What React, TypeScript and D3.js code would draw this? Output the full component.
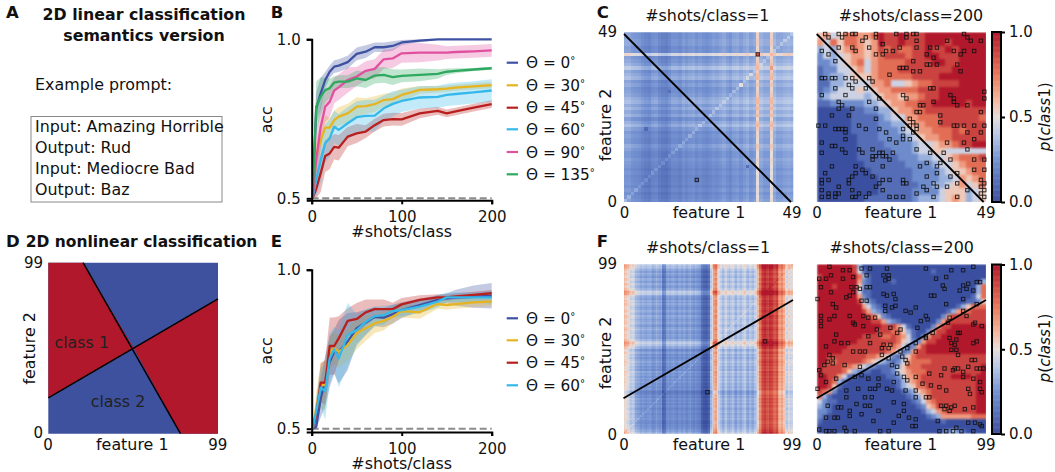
import React, { useEffect, useRef } from "react";
import * as d3 from "d3";

const width = 1055;
const height = 472;
const FONT = "DejaVu Sans";

const shots = [1, 5, 10, 15, 20, 25, 30, 40, 50, 60, 70, 80, 90, 100, 120, 140, 150, 160, 180, 200];

const thetaB = ["0", "30", "45", "60", "90", "135"];
const thetaE = ["0", "30", "45", "60"];
const lineColors = ["#3f51a3", "#e6b422", "#b8201f", "#35b8ea", "#e0509f", "#2fa860"];

// panel B mean accuracy, one row per theta
const accB = [
  [0.5, 0.783, 0.83, 0.872, 0.898, 0.914, 0.917, 0.928, 0.954, 0.961, 0.975, 0.975, 0.979, 0.99, 0.996, 1, 1, 1, 1, 1],
  [0.5, 0.631, 0.683, 0.722, 0.722, 0.746, 0.757, 0.767, 0.788, 0.79, 0.796, 0.809, 0.812, 0.825, 0.841, 0.843, 0.845, 0.848, 0.852, 0.856],
  [0.5, 0.53, 0.579, 0.633, 0.641, 0.662, 0.659, 0.694, 0.704, 0.71, 0.73, 0.746, 0.749, 0.748, 0.767, 0.775, 0.767, 0.773, 0.785, 0.796],
  [0.5, 0.558, 0.62, 0.673, 0.689, 0.725, 0.715, 0.736, 0.755, 0.759, 0.76, 0.783, 0.797, 0.806, 0.817, 0.819, 0.825, 0.828, 0.833, 0.839],
  [0.5, 0.62, 0.725, 0.788, 0.804, 0.839, 0.849, 0.872, 0.883, 0.901, 0.907, 0.937, 0.94, 0.956, 0.958, 0.958, 0.958, 0.96, 0.962, 0.965],
  [0.5, 0.788, 0.82, 0.84, 0.846, 0.864, 0.867, 0.867, 0.877, 0.872, 0.886, 0.888, 0.881, 0.885, 0.888, 0.891, 0.898, 0.901, 0.905, 0.909],
];
const errB = [
  [0, 0.05, 0.05, 0.025, 0.02, 0.02, 0.02, 0.02, 0.02, 0.02, 0.015, 0.015, 0.015, 0.008, 0.005, 0.002, 0, 0, 0, 0],
  [0, 0.05, 0.05, 0.04, 0.03, 0.03, 0.03, 0.03, 0.03, 0.025, 0.025, 0.02, 0.02, 0.02, 0.012, 0.01, 0.01, 0.01, 0.01, 0.01],
  [0, 0.04, 0.06, 0.05, 0.05, 0.04, 0.04, 0.03, 0.03, 0.02, 0.02, 0.02, 0.02, 0.02, 0.015, 0.012, 0.012, 0.012, 0.012, 0.012],
  [0, 0.05, 0.07, 0.06, 0.06, 0.05, 0.05, 0.05, 0.05, 0.05, 0.05, 0.04, 0.04, 0.035, 0.035, 0.035, 0.035, 0.035, 0.035, 0.035],
  [0, 0.08, 0.07, 0.05, 0.05, 0.04, 0.04, 0.04, 0.03, 0.03, 0.03, 0.03, 0.03, 0.03, 0.03, 0.025, 0.02, 0.02, 0.02, 0.02],
  [0, 0.08, 0.06, 0.04, 0.03, 0.02, 0.02, 0.02, 0.025, 0.025, 0.025, 0.025, 0.025, 0.02, 0.02, 0.015, 0.01, 0.008, 0.005, 0.005],
];

// panel E mean accuracy
const accE = [
  [0.5, 0.506, 0.595, 0.65, 0.71, 0.742, 0.742, 0.774, 0.816, 0.834, 0.852, 0.849, 0.86, 0.873, 0.889, 0.905, 0.91, 0.912, 0.915, 0.918],
  [0.5, 0.564, 0.637, 0.637, 0.742, 0.753, 0.742, 0.763, 0.8, 0.816, 0.831, 0.839, 0.852, 0.87, 0.866, 0.892, 0.889, 0.892, 0.897, 0.9],
  [0.5, 0.543, 0.645, 0.645, 0.76, 0.76, 0.784, 0.839, 0.845, 0.866, 0.876, 0.876, 0.876, 0.891, 0.905, 0.913, 0.913, 0.916, 0.921, 0.926],
  [0.5, 0.553, 0.629, 0.618, 0.721, 0.75, 0.721, 0.795, 0.81, 0.836, 0.854, 0.857, 0.87, 0.873, 0.884, 0.9, 0.913, 0.913, 0.913, 0.913],
];
const errE = [
  [0, 0.02, 0.06, 0.08, 0.08, 0.07, 0.1, 0.09, 0.05, 0.04, 0.03, 0.03, 0.03, 0.025, 0.02, 0.015, 0.015, 0.025, 0.035, 0.04],
  [0, 0.05, 0.07, 0.08, 0.05, 0.05, 0.05, 0.05, 0.05, 0.04, 0.03, 0.03, 0.02, 0.02, 0.02, 0.015, 0.015, 0.015, 0.015, 0.015],
  [0, 0.04, 0.06, 0.07, 0.09, 0.09, 0.07, 0.04, 0.05, 0.04, 0.03, 0.03, 0.02, 0.02, 0.015, 0.01, 0.01, 0.01, 0.01, 0.01],
  [0, 0.04, 0.06, 0.09, 0.08, 0.07, 0.09, 0.1, 0.05, 0.04, 0.03, 0.03, 0.02, 0.02, 0.02, 0.02, 0.015, 0.015, 0.015, 0.02],
];

// panel C left, read as column and row bands (top row first)
const colBandC = [
  0.3, 0.3, 0.27, 0.26, 0.25, 0.22, 0.2, 0.19, 0.23, 0.24, 0.2, 0.18, 0.17, 0.2, 0.24, 0.24, 0.22, 0.26, 0.24, 0.26, 0.27, 0.24, 0.26, 0.24, 0.23,
  0.25, 0.27, 0.26, 0.28, 0.3, 0.27, 0.25, 0.29, 0.3, 0.27, 0.3, 0.32, 0.28, 0.3, 0.53, 0.33, 0.3, 0.3, 0.53, 0.34, 0.3, 0.3, 0.32, 0.33, 0.32,
];
const rowBandC = [
  0, 0, 0.02, 0.02, -0.01, 0, 0.22, 0, 0.02, 0.05, 0.12, 0.02, 0.05, 0.08, 0, 0.03, -0.01, 0, 0.02, 0.06, 0.08, 0.03, 0.07, 0.02, 0.06,
  -0.01, 0.04, 0.08, 0.02, -0.02, 0, -0.02, -0.02, 0.03, 0, -0.03, -0.03, 0, -0.02, -0.03, -0.05, -0.03, -0.05, -0.04, -0.03, -0.05, -0.02, -0.05, -0.03, -0.01,
];
const capC = 0.6;
const diagLiftC = 0.07;
const spotsC = [[6, 21, 0.1], [36, 10, 0.12], [21, 6, 0.1], [39, 43, 0.85], [43, 39, 0.66], [34, 34, 0.5], [13, 32, 0.12], [37, 37, 0.48], [29, 29, 0.42]];

// panel C right, 25 x 25 digits (0 = p 0, 9 = p 1), top row first
const gridC = [
  "5645776679889888999999999",
  "6475776569889888999899999",
  "3435676568787788988989999",
  "2434566567888788998889999",
  "2234567467777888899889999",
  "1224456467778888888899999",
  "1233455567777788889999999",
  "1133444466744567788889999",
  "1234445456677778889999999",
  "2344444345665667889999999",
  "1122222334566778899999899",
  "0000011223356677888888888",
  "0000011112344667778888887",
  "0000011112233566778888888",
  "0000011112223456677787888",
  "0000001112222345667788888",
  "0000001111222234456678899",
  "0000001111122234455444444",
  "0000001111112223344567778",
  "0000000111111222234456777",
  "0000000011111122223455677",
  "0000000001111122223346567",
  "0000000001111112233456457",
  "0000000001111122224555345",
  "0000000111111123334565345",
];

// panel F left, hundredths
const colBandF = [
  58, 55, 52, 48, 44, 46, 42, 36, 34, 33, 30, 32, 30, 29, 31, 32, 30, 27, 29, 33, 30, 28, 31, 14, 16,
  28, 30, 27, 29, 31, 28, 26, 29, 30, 27, 30, 28, 26, 29, 31, 27, 25, 28, 26, 24, 22, 12, 8, 7, 8,
  12, 40, 48, 66, 70, 56, 48, 42, 36, 40, 44, 38, 35, 39, 42, 37, 34, 40, 38, 36, 41, 44, 37, 35, 40,
  38, 36, 42, 46, 60, 76, 84, 92, 95, 90, 88, 94, 92, 86, 84, 88, 72, 66, 70, 62, 50, 46, 52, 48, 50,
];
const rowBandF = [
  10, 8, 6, 2, -2, 3, 0, -3, 2, 1, -2, 3, 0, -1, 3, 7, 13, 11, 3, 0, -2, 2, -1, 3, 0,
  -3, -1, 2, 0, -2, 3, 1, -2, 0, 2, -1, -3, 1, 4, 0, -2, 2, 0, -1, 4, 9, 13, 9, 4, 2,
  -6, -3, 0, -5, -2, -6, -3, 0, -4, -2, -5, -3, -6, 0, -4, -2, -5, -1, -4, -2, -5, -3, -6, -4, -8,
  -12, -10, -5, -8, -4, -6, -3, -7, -4, -6, -8, -5, -4, -7, -5, -6, -4, -7, -8, -5, -6, -4, -2, 0, 4,
];
const diagLiftF = 0.05;
const spotsF = [[53, 83, 0.86], [54, 83, 0.88], [83, 54, 1], [84, 54, 1], [85, 54, 1], [82, 54, 0.98]];

// panel F right, 34 x 34 digits, top row first
const gridF = [
  "9999999830000000000000000000000000",
  "9999999841000000000000010000000000",
  "8999999973100000000000000000000000",
  "9999999962100001000000000000000003",
  "9998999952100000000000000000000037",
  "9999999941100000000000000000000037",
  "9999999962100000000000000000000147",
  "9999999984210000000000000000001125",
  "9999999996421000000000000000135777",
  "9999999998632100000000000013677888",
  "9999999999875210000000000268888888",
  "9999999999988632100000002688888888",
  "9999999999999888641000026889999999",
  "9999999999998887753100268899999999",
  "9999999998888778764102688999999999",
  "9999999988888888754226889999999999",
  "9999998888888877641268999999999999",
  "9999988888888876412688999999999999",
  "9988888888776542135788888888888888",
  "9977888887654321246777788888888888",
  "9888877654321112357778888888888889",
  "9888875321100112456777888888888889",
  "9988641100000011246678888889999899",
  "9987310000000001135678888888888899",
  "9985100000000000134577888888888899",
  "8762000000000000012356788888888899",
  "7310000000000000001235788888888899",
  "4211000000000000000124678888888899",
  "3210000000000000000012568888888899",
  "2210000000000000000001346788888899",
  "2100000000000000000000123666666777",
  "1000000000000000000000000100000000",
  "0000000000000000000000000000000000",
  "0000000000000000000000000123210000",
];

// training points as feature1,feature2
const pointsC1 = [[39, 43], [21, 6]];
const pointsC200 = [
  [2,49],[6,49],[8,49],[10,49],[11,49],[7,48],[3,48],[6,45],[1,44],[3,43],[5,41],[10,45],[11,44],[14,48],[13,47],[17,49],[17,48],[15,45],[19,46],[17,43],
  [19,43],[20,44],[22,44],[23,49],[26,49],[28,49],[29,49],[26,48],[29,47],[24,45],[29,45],[32,43],[33,45],[35,45],[38,47],[43,49],[44,48],[48,47],[45,47],[40,44],
  [43,44],[46,44],[42,43],[28,41],[34,42],[35,40],[41,40],[24,39],[25,39],[26,39],[28,38],[30,38],[32,40],[33,40],[42,38],[21,37],[16,35],[1,36],[2,36],[4,36],
  [5,36],[8,36],[10,36],[9,34],[11,35],[15,36],[14,33],[10,33],[8,31],[5,33],[1,31],[33,33],[34,33],[39,31],[40,30],[49,32],[49,30],[25,31],[26,30],[18,30],
  [34,29],[40,29],[41,28],[44,28],[6,29],[7,28],[6,27],[15,29],[17,27],[10,27],[31,28],[30,28],[29,26],[30,26],[36,25],[48,26],[4,25],[9,25],[17,24],[27,24],
  [28,23],[29,22],[27,22],[36,23],[40,22],[41,22],[43,22],[46,22],[0,22],[2,22],[5,21],[6,21],[7,21],[8,21],[8,20],[12,22],[14,21],[18,21],[20,20],[25,21],
  [28,20],[29,21],[44,20],[48,20],[49,22],[1,17],[8,18],[4,16],[5,16],[7,15],[21,18],[23,17],[25,18],[27,18],[25,19],[38,17],[43,17],[46,18],[12,15],[16,15],
  [18,14],[19,14],[16,13],[17,13],[19,13],[20,13],[22,14],[16,12],[21,12],[1,14],[8,14],[13,14],[29,15],[33,14],[37,14],[44,15],[32,11],[36,11],[39,12],[49,12],
  [46,12],[4,10],[2,8],[11,8],[11,10],[13,9],[14,8],[10,7],[19,10],[30,10],[35,10],[49,9],[46,9],[1,6],[1,5],[3,6],[9,6],[16,7],[19,6],[21,6],
  [25,6],[26,5],[32,7],[39,7],[35,8],[41,8],[48,6],[49,5],[1,3],[3,2],[5,2],[6,4],[6,2],[9,5],[10,3],[1,1],[3,1],[5,1],[10,1],[11,1],
  [12,2],[14,1],[15,2],[18,5],[17,4],[19,3],[21,1],[23,1],[25,1],[25,5],[29,2],[31,4],[32,3],[34,5],[35,4],[38,4],[41,5],[48,4],[49,3],[48,2],
  [49,1],[34,1],[41,1],[44,3],
];
const pointsF1 = [[83, 54], [49, 24]];
const pointsF200 = [
  [7,98],[15,96],[19,96],[26,97],[31,97],[41,97],[64,97],[79,96],[86,96],[92,98],[1,91],[5,91],[8,93],[15,91],[21,92],[29,93],[39,93],[42,93],[40,90],[42,91],
  [70,91],[76,92],[86,87],[89,88],[94,89],[2,86],[8,83],[20,86],[21,83],[25,85],[29,86],[31,86],[23,86],[39,82],[45,82],[74,87],[75,85],[84,84],[88,85],[92,84],
  [96,89],[0,79],[9,76],[11,74],[17,80],[19,81],[26,78],[29,78],[41,81],[46,79],[46,75],[40,75],[67,81],[69,81],[76,76],[86,79],[94,76],[2,69],[10,69],[7,67],
  [19,69],[27,69],[30,68],[34,68],[40,72],[44,74],[52,72],[55,71],[58,74],[64,69],[65,67],[86,72],[78,68],[88,69],[93,65],[2,66],[2,63],[11,58],[21,65],[22,64],
  [27,63],[35,61],[37,58],[43,62],[49,61],[61,66],[59,62],[68,59],[77,65],[84,59],[92,64],[97,63],[5,51],[10,54],[14,53],[18,53],[30,57],[31,53],[43,52],[47,59],
  [58,53],[64,57],[64,56],[78,56],[82,55],[94,54],[92,53],[83,59],[79,53],[81,52],[7,46],[9,44],[6,42],[21,48],[25,48],[28,48],[38,50],[39,52],[42,50],[49,48],
  [53,50],[58,48],[82,49],[79,49],[83,46],[38,46],[42,44],[91,43],[93,43],[1,37],[9,41],[4,40],[16,40],[25,39],[26,34],[50,45],[52,43],[53,41],[75,38],[80,37],
  [81,38],[83,38],[89,39],[94,38],[96,38],[98,38],[86,36],[44,40],[47,39],[2,34],[5,30],[11,32],[22,33],[30,32],[36,32],[47,35],[51,33],[53,31],[66,35],[73,34],
  [86,33],[92,32],[96,30],[58,33],[62,29],[67,28],[72,27],[36,28],[45,30],[0,26],[17,25],[24,26],[31,26],[34,26],[41,26],[44,25],[52,25],[58,25],[64,21],[66,21],
  [58,21],[89,26],[96,26],[97,24],[90,23],[28,21],[17,21],[32,21],[76,25],[6,16],[12,15],[14,15],[19,13],[23,17],[28,16],[31,16],[36,13],[45,18],[51,17],[73,16],
  [76,16],[79,15],[81,16],[75,14],[78,13],[87,14],[92,15],[51,13],[5,9],[10,9],[12,9],[19,10],[26,11],[33,7],[48,10],[45,6],[54,9],[58,8],[93,6],[96,5],
  [97,4],[89,6],[71,7],[1,2],[7,1],[10,1],[16,3],[17,1],[22,1],[37,1],[42,1],[56,4],[58,4],[72,1],[76,1],[80,1],[85,1],[82,3],[92,1],[5,1],
];

// decision boundaries in feature units
const boundaryC = [[-0.5, 49], [48.8, -0.5]];
const boundaryF = [[-0.5, 20.4], [99.5, 78.4]];
const boundaryD2 = [[20, 99.5], [77.4, -0.5]];

const promptLines = ["Input: Amazing Horrible", "Output: Rud", "Input: Mediocre Bad", "Output: Baz"];

const cmap = d3
  .scaleLinear<string>()
  .domain([0, 0.25, 0.4, 0.5, 0.6, 0.75, 1])
  .range(["#3b4fa0", "#7492d2", "#b8c9e8", "#e6dedc", "#f4b69c", "#e8785a", "#b2182b"])
  .clamp(true);

let heatId = 0;

function addText(g: any, x: number, y: number, str: string, size = 16, anchor = "middle", weight = "normal", rotate = false) {
  const t = g
    .append("text")
    .attr("font-family", FONT)
    .attr("font-size", size)
    .attr("font-weight", weight)
    .attr("text-anchor", anchor)
    .attr("fill", "#111")
    .text(str);
  if (rotate) t.attr("transform", `translate(${x},${y}) rotate(-90)`);
  else t.attr("x", x).attr("y", y);
  return t;
}

function drawCurves(svg: any, top: number, zero: number, axisY: number, mean: number[][], err: number[][], thetas: string[], legendY: number[], labelY: number) {
  const yLow = 1 - (axisY - top) / ((zero - top) * 2);
  const x = d3.scaleLinear().domain([0, 200]).range([311.7, 491.7]);
  const y = d3.scaleLinear().domain([yLow, 1]).range([axisY, top]);
  const g = svg.append("g");

  const line = d3
    .line<number>()
    .x((_, i) => x(shots[i]))
    .y((d) => y(d));

  mean.forEach((m, s) => {
    const band = d3
      .area<number>()
      .x((_, i) => x(shots[i]))
      .y0((d, i) => y(Math.max(0.5, d - err[s][i])))
      .y1((d, i) => y(Math.min(1, d + err[s][i])));
    g.append("path").attr("d", band(m)).attr("fill", lineColors[s]).attr("opacity", 0.3);
  });
  g.append("line")
    .attr("x1", x(0))
    .attr("x2", x(200))
    .attr("y1", y(0.5))
    .attr("y2", y(0.5))
    .attr("stroke", "#8c8c8c")
    .attr("stroke-width", 2)
    .attr("stroke-dasharray", "7,3.5");
  mean.forEach((m, s) => {
    g.append("path").attr("d", line(m)).attr("fill", "none").attr("stroke", lineColors[s]).attr("stroke-width", 2.3).attr("stroke-linejoin", "round");
  });

  const xAxis = g
    .append("g")
    .attr("transform", `translate(0,${axisY})`)
    .call(d3.axisBottom(x).tickValues([0, 100, 200]).tickSize(4).tickPadding(7));
  const yAxis = g
    .append("g")
    .attr("transform", `translate(${x(0)},0)`)
    .call(d3.axisLeft(y).tickValues([0.5, 1]).tickSize(5).tickPadding(6).tickFormat(d3.format(".1f")));
  [xAxis, yAxis].forEach((a) => {
    a.selectAll("path").attr("stroke", "#000").attr("stroke-width", 2);
    a.selectAll("line").attr("stroke", "#000").attr("stroke-width", 2);
    a.selectAll("text").attr("font-family", FONT).attr("font-size", 15).attr("fill", "#111");
  });

  addText(g, 272, (top + axisY) / 2, "acc", 15.8, "middle", "normal", true);
  addText(g, 401.7, labelY, "#shots/class", 15.9);

  thetas.forEach((t, i) => {
    g.append("line")
      .attr("x1", 506.7)
      .attr("x2", 518)
      .attr("y1", legendY[i])
      .attr("y2", legendY[i])
      .attr("stroke", lineColors[i])
      .attr("stroke-width", 2.2);
    const label = addText(g, 526, legendY[i] + 5.5, `Θ = ${t}`, 15.3, "start");
    label.append("tspan").attr("font-size", 10).attr("dy", -4).text("°");
  });
}

function drawHeat(svg: any, x0: number, x1: number, y0: number, y1: number, nx: number, ny: number, value: (c: number, r: number) => number, maxTick: number, points: number[][], boundary: number[][], blur: number) {
  const band = d3.scaleLinear().domain([0, nx]).range([x0, x1]);
  const bandY = d3.scaleLinear().domain([0, ny]).range([y0, y1]);
  const id = `heat${heatId++}`;
  const defs = svg.append("defs");
  defs.append("clipPath").attr("id", `${id}c`).append("rect").attr("x", x0).attr("y", y0).attr("width", x1 - x0).attr("height", y1 - y0);
  defs
    .append("filter")
    .attr("id", `${id}f`)
    .attr("color-interpolation-filters", "sRGB")
    .append("feGaussianBlur")
    .attr("stdDeviation", blur)
    .attr("edgeMode", "duplicate");

  const g = svg.append("g");
  const cells = g.append("g").attr("clip-path", `url(#${id}c)`).append("g").attr("filter", `url(#${id}f)`).attr("shape-rendering", "crispEdges");
  for (let r = 0; r < ny; r++) {
    for (let c = 0; c < nx; c++) {
      cells
        .append("rect")
        .attr("x", band(c))
        .attr("y", bandY(r))
        .attr("width", band(c + 1) - band(c) + 0.5)
        .attr("height", bandY(r + 1) - bandY(r) + 0.5)
        .attr("fill", cmap(value(c, r)));
    }
  }
  const x = d3.scaleLinear().domain([-0.5, maxTick + 0.5]).range([x0, x1]);
  const y = d3.scaleLinear().domain([-0.5, maxTick + 0.5]).range([y1, y0]);
  g.selectAll(".pt")
    .data(points)
    .enter()
    .append("rect")
    .attr("x", (d: number[]) => x(d[0]) - 1.7)
    .attr("y", (d: number[]) => y(d[1]) - 1.7)
    .attr("width", 3.4)
    .attr("height", 3.4)
    .attr("fill", "none")
    .attr("stroke", "#111")
    .attr("stroke-opacity", 0.85)
    .attr("stroke-width", 1);
  g.append("line")
    .attr("x1", x(boundary[0][0]))
    .attr("y1", y(boundary[0][1]))
    .attr("x2", x(boundary[1][0]))
    .attr("y2", y(boundary[1][1]))
    .attr("stroke", "#000")
    .attr("stroke-width", 1.8);
}

function drawColorbar(svg: any, top: number, bottom: number, labelY: number) {
  const x0 = 992;
  const w = 9;
  const y = d3.scaleLinear().domain([0, 1]).range([bottom, top]);
  const g = svg.append("g");
  g.selectAll(".c")
    .data(d3.range(0, 1, 0.005))
    .enter()
    .append("rect")
    .attr("x", x0)
    .attr("width", w)
    .attr("y", (d: number) => y(d + 0.005))
    .attr("height", (top - bottom) / -200 + 0.5)
    .attr("fill", (d: number) => cmap(d));
  g.append("rect")
    .attr("x", x0)
    .attr("width", w)
    .attr("y", top)
    .attr("height", bottom - top)
    .attr("fill", "none")
    .attr("stroke", "#000")
    .attr("stroke-width", 2);
  const axis = g
    .append("g")
    .attr("transform", `translate(${x0 + w},0)`)
    .call(d3.axisRight(y).tickValues([0, 0.5, 1]).tickSize(4).tickPadding(4).tickFormat(d3.format(".1f")));
  axis.select("path").remove();
  axis.selectAll("line").attr("stroke", "#000").attr("stroke-width", 2);
  axis.selectAll("text").attr("font-family", FONT).attr("font-size", 15).attr("fill", "#111");

  const t = addText(g, 1050, labelY, "", 15.2, "middle", "normal", true);
  t.append("tspan").attr("font-style", "italic").text("p");
  t.append("tspan").text("(");
  t.append("tspan").attr("font-style", "italic").text("class");
  t.append("tspan").text("1)");
}

const App = () => {
  const svgRef = useRef<SVGSVGElement>(null);

  useEffect(() => {
    const svg = d3.select(svgRef.current);
    svg.selectAll("*").remove();
    heatId = 0;

    // panel letters
    [["A", 6, 18], ["B", 270.7, 18], ["C", 596.7, 18], ["D", 6, 247], ["E", 270.7, 246.7], ["F", 596.7, 247]].forEach((p) => {
      addText(svg, p[1] as number, p[2] as number, p[0] as string, 16.5, "start", "bold");
    });

    // panel A
    addText(svg, 144, 20, "2D linear classification", 15.8, "middle", "bold");
    addText(svg, 144, 41, "semantics version", 15.8, "middle", "bold");
    addText(svg, 35, 90, "Example prompt:", 15.9, "start");
    svg.append("rect").attr("x", 31).attr("y", 116.5).attr("width", 191).attr("height", 85.5).attr("fill", "none").attr("stroke", "#888").attr("stroke-width", 1);
    promptLines.forEach((l, i) => addText(svg, 35, 132 + i * 21, l, 15.9, "start"));

    // panel D
    addText(svg, 25.7, 247, "2D nonlinear classification", 15.5, "start", "bold");
    const dx = d3.scaleLinear().domain([-0.5, 99.5]).range([48.3, 218]);
    const dy = d3.scaleLinear().domain([-0.5, 99.5]).range([433.7, 262.7]);
    const red = "#b1182b";
    const blue = "#3d519e";
    const low = -0.5;
    const high = 99.5;
    const crossX = 50;
    const crossY = 49.3;
    const poly = (pts: number[][], fill: string) =>
      svg.append("polygon").attr("points", pts.map((p) => `${dx(p[0])},${dy(p[1])}`).join(" ")).attr("fill", fill);
    poly([[low, low], [high, low], [high, high], [low, high]], blue);
    poly([[low, boundaryF[0][1]], [crossX, crossY], [boundaryD2[0][0], high], [low, high]], red);
    poly([[crossX, crossY], [high, boundaryF[1][1]], [high, low], [boundaryD2[1][0], low]], red);
    [[[low, boundaryF[0][1]], [high, boundaryF[1][1]]], boundaryD2].forEach((b) => {
      svg.append("line").attr("x1", dx(b[0][0])).attr("y1", dy(b[0][1])).attr("x2", dx(b[1][0])).attr("y2", dy(b[1][1])).attr("stroke", "#000").attr("stroke-width", 1.5);
    });
    addText(svg, 81.7, 348, "class 1", 15.9).attr("fill", "#222");
    addText(svg, 118, 406.7, "class 2", 15.9).attr("fill", "#222");
    addText(svg, 43, 268.3, "99", 15, "end");
    addText(svg, 43, 438, "0", 15, "end");
    addText(svg, 48, 450, "0", 15);
    addText(svg, 217.7, 450, "99", 15);
    addText(svg, 132.3, 450, "feature 1", 15.9);
    addText(svg, 35, 348.3, "feature 2", 15.9, "middle", "normal", true);

    // line panels
    drawCurves(svg, 39.3, 198.3, 200.3, accB, errB, thetaB, [62.7, 85.3, 107.7, 129.3, 152, 174.3], 237);
    drawCurves(svg, 269.7, 428.7, 432, accE, errE, thetaE, [318.3, 340.3, 362.7, 385.3], 468.5);

    // panel C
    const cValue = (c: number, r: number) => {
      const spot = spotsC.find((s) => s[0] === c && s[1] === 49 - r);
      if (spot) return spot[2];
      const lift = c === 49 - r ? diagLiftC : 0;
      return Math.min(capC, colBandC[c] + rowBandC[r] + lift);
    };
    drawHeat(svg, 624, 793.3, 32.3, 202, 50, 50, cValue, 49, pointsC1, boundaryC, 0.6);
    const digit = (grid: string[]) => (c: number, r: number) => {
      const row = grid[r];
      const ch = row.charAt(Math.min(c, row.length - 1));
      return +ch / 9;
    };
    drawHeat(svg, 816.7, 986, 32.3, 202, 25, 25, digit(gridC), 49, pointsC200, boundaryC, 1.1);
    drawColorbar(svg, 32, 202, 116.7);
    addText(svg, 707.3, 20.7, "#shots/class=1", 15.9);
    addText(svg, 911, 20.7, "#shots/class=200", 15.9);
    addText(svg, 617, 37, "49", 15, "end");
    addText(svg, 617, 207, "0", 15, "end");
    addText(svg, 624.5, 218, "0", 15);
    addText(svg, 792, 218, "49", 15);
    addText(svg, 817, 218, "0", 15);
    addText(svg, 986, 218, "49", 15);
    addText(svg, 709, 218, "feature 1", 15.9);
    addText(svg, 901, 218, "feature 1", 15.9);
    addText(svg, 611, 125, "feature 2", 15.9, "middle", "normal", true);

    // panel F
    const fValue = (c: number, r: number) => {
      const spot = spotsF.find((s) => s[0] === c && s[1] === 99 - r);
      if (spot) return spot[2];
      return (colBandF[c] + rowBandF[r]) / 100 + (c === 99 - r ? diagLiftF : 0);
    };
    drawHeat(svg, 623.5, 793, 264.3, 433.7, 100, 100, fValue, 99, pointsF1, boundaryF, 0.5);
    drawHeat(svg, 816.7, 986, 264.3, 433.7, 34, 34, digit(gridF), 99, pointsF200, boundaryF, 1.3);
    drawColorbar(svg, 264.5, 434, 348);
    addText(svg, 708, 253.3, "#shots/class=1", 15.9);
    addText(svg, 901.7, 253.3, "#shots/class=200", 15.9);
    addText(svg, 617, 269.3, "99", 15, "end");
    addText(svg, 617, 440, "0", 15, "end");
    addText(svg, 624, 450, "0", 15);
    addText(svg, 792, 450, "99", 15);
    addText(svg, 817, 450, "0", 15);
    addText(svg, 986, 450, "99", 15);
    addText(svg, 709, 450, "feature 1", 15.9);
    addText(svg, 901, 450, "feature 1", 15.9);
    addText(svg, 611, 353, "feature 2", 15.9, "middle", "normal", true);
  }, []);

  return <svg ref={svgRef} width={width} height={height} style={{ position: "absolute", left: 0, top: 0, background: "#fff" }} />;
};

export default App;
